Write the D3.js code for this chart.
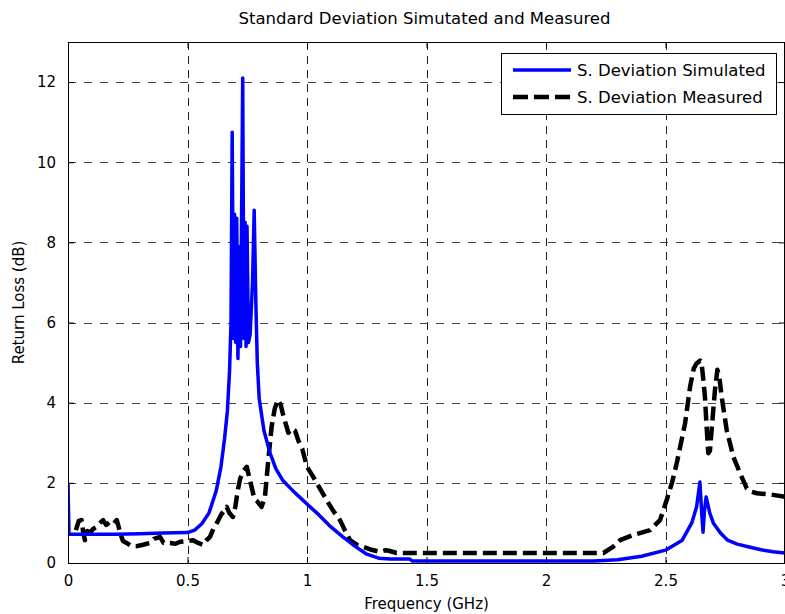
<!DOCTYPE html>
<html>
<head>
<meta charset="utf-8">
<script src="https://cdn.jsdelivr.net/npm/d3@7/dist/d3.min.js"></script>
<style>
  html, body { margin: 0; padding: 0; background: #fff; }
  svg text { font-family: "DejaVu Sans", "Liberation Sans", Arial, sans-serif; fill: #000; }
</style>
</head>
<body>
<svg id="chart" width="785" height="614"></svg>
<script>
// Frequency (GHz) and standard deviation of return loss (dB)
const simFreq = [0, 0.004, 0.1, 0.2, 0.3, 0.4, 0.5, 0.53, 0.56, 0.59, 0.62, 0.64, 0.655, 0.667, 0.676, 0.682,
  0.687, 0.692, 0.697, 0.702, 0.706, 0.711, 0.716, 0.722, 0.731, 0.736, 0.741, 0.745, 0.749, 0.755, 0.762,
  0.772, 0.779, 0.786, 0.792, 0.80, 0.82, 0.845, 0.87, 0.9, 0.95, 1.0, 1.05, 1.1, 1.15, 1.2, 1.25, 1.3,
  1.35, 1.43, 1.44, 2.2, 2.3, 2.4, 2.5, 2.57, 2.61, 2.63, 2.644, 2.652, 2.657, 2.663, 2.67, 2.685, 2.70,
  2.73, 2.76, 2.8, 2.85, 2.9, 2.95, 3.0];
const simValues = [2.0, 0.72, 0.72, 0.72, 0.73, 0.75, 0.76, 0.82, 0.98, 1.25, 1.8, 2.4, 3.1, 3.8, 4.8, 6.0,
  10.75, 5.6, 8.7, 5.5, 8.6, 5.1, 7.9, 5.4, 12.1, 5.6, 8.5, 5.4, 8.4, 5.5, 5.7,
  7.0, 8.8, 6.5, 5.0, 4.1, 3.3, 2.75, 2.35, 2.05, 1.75, 1.47, 1.2, 0.9, 0.65, 0.42, 0.22, 0.12,
  0.1, 0.1, 0.05, 0.05, 0.08, 0.17, 0.32, 0.57, 1.0, 1.4, 2.02, 1.2, 0.77, 1.3, 1.65, 1.25, 1.0,
  0.75, 0.57, 0.47, 0.4, 0.33, 0.28, 0.25];

const measFreq = [0.033, 0.045, 0.057, 0.064, 0.071, 0.08, 0.092, 0.105, 0.12, 0.135, 0.147, 0.16, 0.176,
  0.19, 0.204, 0.212, 0.218, 0.23, 0.245, 0.265, 0.287, 0.31, 0.33, 0.343, 0.36, 0.385, 0.4, 0.427, 0.45,
  0.469, 0.5, 0.523, 0.545, 0.566, 0.58, 0.594, 0.608, 0.623, 0.64, 0.652, 0.664, 0.675, 0.69, 0.7, 0.71,
  0.72, 0.735, 0.748, 0.76, 0.77, 0.78, 0.79, 0.81, 0.824, 0.838, 0.852, 0.865, 0.878, 0.89, 0.9, 0.912,
  0.922, 0.935, 0.95, 0.964, 0.98, 1.0, 1.026, 1.055, 1.082, 1.11, 1.138, 1.16, 1.18, 1.21, 1.236, 1.27,
  1.305, 1.33, 1.347, 1.375, 1.4, 2.24, 2.28, 2.31, 2.365, 2.435, 2.477, 2.505, 2.527, 2.547, 2.565,
  2.582, 2.603, 2.618, 2.63, 2.645, 2.651, 2.658, 2.665, 2.672, 2.679, 2.686, 2.693, 2.707, 2.717, 2.726,
  2.735, 2.756, 2.784, 2.812, 2.84, 2.86, 2.882, 2.92, 2.95, 3.0];
const measValues = [0.82, 1.05, 1.07, 0.75, 0.57, 0.8, 0.75, 0.85, 0.9, 1.0, 1.07, 0.95, 1.03,
  0.98, 1.07, 0.9, 0.75, 0.55, 0.5, 0.42, 0.42, 0.45, 0.48, 0.5, 0.6, 0.65, 0.5, 0.5, 0.48,
  0.53, 0.55, 0.57, 0.5, 0.45, 0.57, 0.65, 0.85, 1.0, 1.2, 1.3, 1.4, 1.25, 1.15, 1.4, 1.8,
  2.1, 2.3, 2.4, 2.1, 1.85, 1.6, 1.55, 1.4, 1.65, 2.57, 3.4, 3.85, 4.07, 3.95, 3.7, 3.45,
  3.25, 3.35, 3.3, 3.05, 2.85, 2.4, 2.15, 1.85, 1.57, 1.3, 1.07, 0.8, 0.57, 0.45, 0.4, 0.33,
  0.28, 0.32, 0.3, 0.25, 0.25, 0.25, 0.4, 0.57, 0.7, 0.82, 1.07, 1.57, 2.0, 2.49, 3.0,
  3.49, 4.4, 4.85, 4.98, 5.05, 4.98, 4.6, 4.15, 3.4, 2.74, 2.8, 3.32, 4.32, 4.82, 4.6,
  4.15, 3.32, 2.65, 2.24, 1.86, 1.78, 1.74, 1.72, 1.7, 1.65];

const xTicks = [0, 0.5, 1, 1.5, 2, 2.5, 3];
const xTickLabels = ["0", "0.5", "1", "1.5", "2", "2.5", "3"];
const yTicks = [0, 2, 4, 6, 8, 10, 12];
const yTickLabels = ["0", "2", "4", "6", "8", "10", "12"];

const seriesNames = ["S. Deviation Simulated", "S. Deviation Measured"];
const titleText = "Standard Deviation Simutated and Measured";
const xLabel = "Frequency (GHz)";
const yLabel = "Return Loss (dB)";

// ---- layout
const svg = d3.select("#chart");
const plot = { left: 68, top: 42, right: 785, bottom: 563 };

const x = d3.scaleLinear().domain([0, 3]).range([plot.left, plot.right]);
const y = d3.scaleLinear().domain([0, 13]).range([plot.bottom, plot.top]);

const defs = svg.append("defs");
defs.append("clipPath").attr("id", "plotClip")
  .append("rect")
  .attr("x", plot.left).attr("y", plot.top)
  .attr("width", plot.right - plot.left).attr("height", plot.bottom - plot.top);

// ---- grid
const grid = svg.append("g").attr("class", "grid");
grid.selectAll("line.v").data(xTicks.slice(1, -1)).join("line")
  .attr("class", "v")
  .attr("x1", d => Math.round(x(d)) + 0.5).attr("x2", d => Math.round(x(d)) + 0.5)
  .attr("y1", plot.top).attr("y2", plot.bottom)
  .attr("stroke", "#222").attr("stroke-width", 1).attr("stroke-dasharray", "8,6");
grid.selectAll("line.h").data(yTicks.slice(1)).join("line")
  .attr("class", "h")
  .attr("x1", plot.left).attr("x2", plot.right)
  .attr("y1", d => Math.round(y(d)) + 0.5).attr("y2", d => Math.round(y(d)) + 0.5)
  .attr("stroke", "#444").attr("stroke-width", 1).attr("stroke-dasharray", "8,8");

// ---- axes (ticks point inward, MATLAB style)
const tickLen = 6;
const xAxisB = d3.axisBottom(x).tickValues(xTicks).tickFormat((d, i) => xTickLabels[i])
  .tickSizeInner(-tickLen).tickSizeOuter(0).tickPadding(12);
const yAxisL = d3.axisLeft(y).tickValues(yTicks).tickFormat((d, i) => yTickLabels[i])
  .tickSizeInner(-tickLen).tickSizeOuter(0).tickPadding(12);
const xAxisT = d3.axisTop(x).tickValues(xTicks).tickFormat("").tickSizeInner(-tickLen).tickSizeOuter(0);
const yAxisR = d3.axisRight(y).tickValues(yTicks).tickFormat("").tickSizeInner(-tickLen).tickSizeOuter(0);

function styleAxis(g) {
  g.select(".domain").remove();
  g.selectAll(".tick line").attr("stroke", "#000");
  g.selectAll(".tick text").attr("font-size", 15).attr("fill", "#000")
    .attr("font-family", "'DejaVu Sans', 'Liberation Sans', Arial, sans-serif");
}
svg.append("g").attr("transform", `translate(0,${plot.bottom})`).call(xAxisB).call(styleAxis);
svg.append("g").attr("transform", `translate(${plot.left},0)`).call(yAxisL).call(styleAxis);
svg.append("g").attr("transform", `translate(0,${plot.top})`).call(xAxisT).call(styleAxis);
svg.append("g").attr("transform", `translate(${plot.right},0)`).call(yAxisR).call(styleAxis);

// ---- data lines
const toPoints = (fs, vs) => fs.map((f, i) => [f, vs[i]]);
const line = d3.line().x(d => x(d[0])).y(d => y(d[1]));

const curves = svg.append("g").attr("clip-path", "url(#plotClip)");
curves.append("path")
  .datum(toPoints(measFreq, measValues))
  .attr("d", line)
  .attr("fill", "none").attr("stroke", "#000").attr("stroke-width", 4.5)
  .attr("stroke-dasharray", "14,6").attr("stroke-linejoin", "round");
curves.append("path")
  .datum(toPoints(simFreq, simValues))
  .attr("d", line)
  .attr("fill", "none").attr("stroke", "#0000ff").attr("stroke-width", 3.5)
  .attr("stroke-linejoin", "round");

// ---- frame
svg.append("rect")
  .attr("x", plot.left + 0.5).attr("y", plot.top + 0.5)
  .attr("width", plot.right - plot.left - 1).attr("height", plot.bottom - plot.top)
  .attr("fill", "none").attr("stroke", "#000").attr("stroke-width", 1);

// ---- title & labels
svg.append("text").attr("x", (plot.left + plot.right) / 2 - 2).attr("y", 24)
  .attr("text-anchor", "middle").attr("font-size", 15)
  .attr("font-family", "'Liberation Sans', Arial, sans-serif")
  .attr("textLength", 372).attr("lengthAdjust", "spacingAndGlyphs")
  .text(titleText);
svg.append("text").attr("x", (plot.left + plot.right) / 2).attr("y", 609)
  .attr("text-anchor", "middle").attr("font-size", 15).text(xLabel);
svg.append("text")
  .attr("transform", `translate(24,${(plot.top + plot.bottom) / 2}) rotate(-90)`)
  .attr("text-anchor", "middle").attr("font-size", 15).text(yLabel);

// ---- legend
const legend = svg.append("g").attr("transform", "translate(501,53)");
legend.append("rect").attr("x", 0.5).attr("y", 0.5).attr("width", 275).attr("height", 61)
  .attr("fill", "#fff").attr("stroke", "#000").attr("stroke-width", 1);
const legendStyles = [
  { stroke: "#0000ff", width: 3.5, dash: null },
  { stroke: "#000", width: 4.5, dash: "15,6" }
];
seriesNames.forEach((name, i) => {
  const cy = 17 + i * 27;
  legend.append("line").attr("x1", 12).attr("x2", 70).attr("y1", cy).attr("y2", cy)
    .attr("stroke", legendStyles[i].stroke).attr("stroke-width", legendStyles[i].width)
    .attr("stroke-dasharray", legendStyles[i].dash);
  legend.append("text").attr("x", 76).attr("y", cy).attr("dy", "0.35em")
    .attr("font-size", 16.5).text(name);
});
</script>
</body>
</html>
